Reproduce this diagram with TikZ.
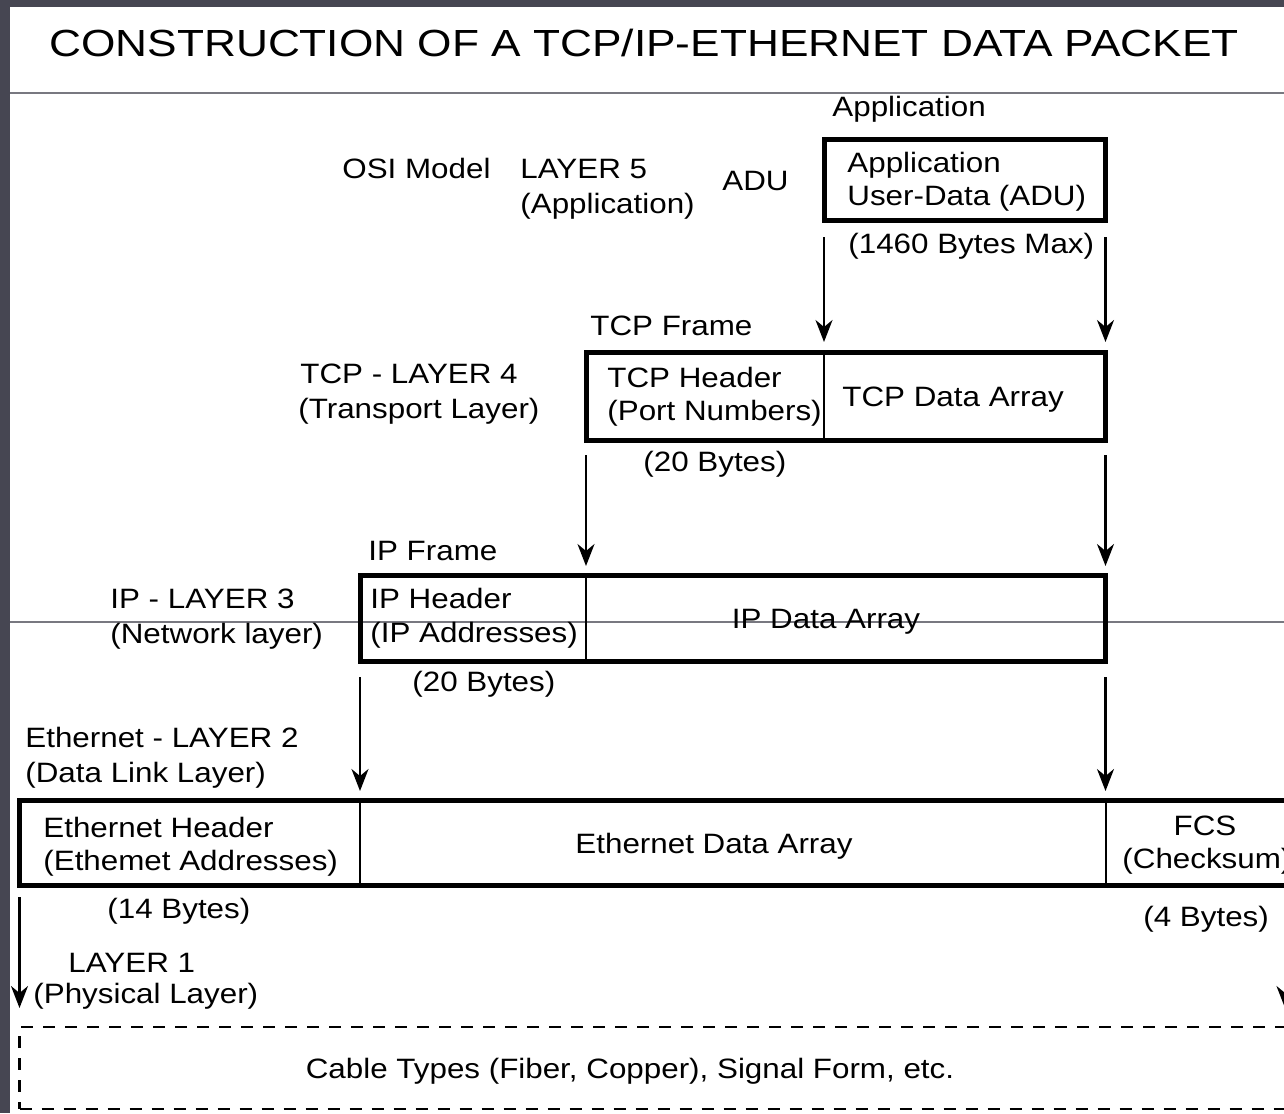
\documentclass[tikz,border=0pt]{standalone}
\usepackage{fontspec}
\usetikzlibrary{arrows.meta}
\newfontfamily\bodyfont[FakeStretch=1.12]{Liberation Sans}
\newfontfamily\headfont[FakeStretch=1.17]{Liberation Sans}
\definecolor{framegray}{RGB}{70,70,82}
\definecolor{rulegray}{RGB}{120,120,128}

\begin{document}
\begin{tikzpicture}[x=0.5pt,y=-0.5pt,
  lbl/.style={font={\bodyfont\fontsize{14pt}{17pt}\selectfont}, inner sep=0pt, anchor=base west},
  clbl/.style={lbl, anchor=base},
  ttl/.style={font={\headfont\fontsize{18.9pt}{22pt}\selectfont}, inner sep=0pt, anchor=base},
  cell/.style={draw, line width=1pt, inner sep=0pt, outer sep=0pt, anchor=north west},
  boxline/.style={draw, line width=2.5pt, line join=miter},
  arr/.style={line width=1.1pt, -{Stealth[length=11pt,width=8.5pt,inset=3.5pt]}},
  sep/.style={draw=rulegray, line width=0.7pt}]

% page, frame strips and rules
\useasboundingbox (0,0) rectangle (1284,1113);
\clip (0,0) rectangle (1284,1113);
\fill[white] (0,0) rectangle (1284,1113);
\fill[framegray] (0,0) rectangle (1284,7);
\fill[framegray] (0,0) rectangle (10,1113);
\coordinate (rA1) at (10,93);   \coordinate (rA2) at (1284,93);
\coordinate (rB1) at (10,622);  \coordinate (rB2) at (1284,622);
\draw[sep] (rA1) -- (rA2);
\draw[sep] (rB1) -- (rB2);

\node[ttl] (title) at (644,57) {CONSTRUCTION OF A TCP/IP-ETHERNET DATA PACKET};

% layer 5 : application data
\node[lbl] (appcap) at (832,117) {Application};
\node[lbl] (osi) at (342,178) {OSI Model};
\node[lbl] (l5a) at (520,178) {LAYER 5};
\node[lbl] (l5b) at (520,213) {(Application)};
\node[lbl] (adu) at (722,190) {ADU};
\node[cell, line width=2.5pt, minimum width=140.75pt, minimum height=40.5pt] (appbox) at (824,139.5) {};
\node[lbl] (appt1) at (847,172) {Application};
\node[lbl] (appt2) at (847,205) {User-Data (ADU)};
\node[lbl] (appmax) at (848,253) {(1460 Bytes Max)};

% layer 4 : TCP frame
\node[lbl] (tcpcap) at (590,335) {TCP Frame};
\node[lbl] (l4a) at (300,383) {TCP - LAYER 4};
\node[lbl] (l4b) at (298,418) {(Transport Layer)};
\node[cell, minimum width=119pt, minimum height=44pt] (tcphead) at (586,352.5) {};
\node[cell, minimum width=140.75pt, minimum height=44pt] (tcpdata) at (824,352.5) {};
\draw[boxline] (tcphead.north west) rectangle (tcpdata.south east);
\node[lbl] (tcpt1) at (607,387) {TCP Header};
\node[lbl] (tcpt2) at (607,420) {(Port Numbers)};
\node[lbl] (tcpt3) at (842,406) {TCP Data Array};
\node[lbl] (tcpsz) at (643,471) {(20 Bytes)};

% layer 3 : IP frame
\node[lbl] (ipcap) at (368,560) {IP Frame};
\node[lbl] (l3a) at (110,608) {IP - LAYER 3};
\node[lbl] (l3b) at (110,643) {(Network layer)};
\node[cell, minimum width=113pt, minimum height=43pt] (iphead) at (360,575.5) {};
\node[cell, minimum width=259.75pt, minimum height=43pt] (ipdata) at (586,575.5) {};
\draw[boxline] (iphead.north west) rectangle (ipdata.south east);
\node[lbl] (ipt1) at (370,608) {IP Header};
\node[lbl] (ipt2) at (370,642) {(IP Addresses)};
\node[clbl] (ipt3) at (826,628) {IP Data Array};
\node[lbl] (ipsz) at (412,691) {(20 Bytes)};

% layer 2 : Ethernet frame
\node[lbl] (l2a) at (25,747) {Ethernet - LAYER 2};
\node[lbl] (l2b) at (25,782) {(Data Link Layer)};
\node[cell, minimum width=170.25pt, minimum height=42.5pt] (ethhead) at (19.5,800.5) {};
\node[cell, minimum width=372.75pt, minimum height=42.5pt] (ethdata) at (360,800.5) {};
\node[cell, minimum width=99.75pt, minimum height=42.5pt] (fcs) at (1105.5,800.5) {};
\draw[boxline] (ethhead.north west) rectangle (fcs.south east);
\node[lbl] (etht1) at (43,837) {Ethernet Header};
\node[lbl] (etht2) at (43,870) {(Ethemet Addresses)};
\node[clbl] (etht3) at (714,853) {Ethernet Data Array};
\node[clbl] (fcst1) at (1205,835) {FCS};
\node[lbl] (fcst2) at (1122,868) {(Checksum)};
\node[lbl] (ethsz) at (107,918) {(14 Bytes)};
\node[lbl] (fcssz) at (1143,926) {(4 Bytes)};

% layer 1 : physical medium
\node[lbl] (l1a) at (68,972) {LAYER 1};
\node[lbl] (l1b) at (33,1003) {(Physical Layer)};
\node[cell, dashed, line width=1.2pt, dash pattern=on 6pt off 5pt,
      minimum width=642.75pt, minimum height=41pt] (phys) at (19.5,1027) {};
\node[clbl] (physt) at (630,1078) {Cable Types (Fiber, Copper), Signal Form, etc.};

% encapsulation arrows
\draw[arr] ([yshift=-8.25pt]appbox.south west) -- ([yshift=5.25pt]tcpdata.north west);
\draw[arr] ([yshift=-8.25pt]appbox.south east) -- ([yshift=5.25pt]tcpdata.north east);
\draw[arr] ([yshift=-7.25pt]tcphead.south west) -- ([yshift=4.75pt]ipdata.north west);
\draw[arr] ([yshift=-7.25pt]tcpdata.south east) -- ([yshift=4.75pt]ipdata.north east);
\draw[arr] ([yshift=-7.75pt]iphead.south west) -- ([yshift=4.75pt]ethdata.north west);
\draw[arr] ([yshift=-7.75pt]ipdata.south east) -- ([yshift=4.75pt]ethdata.north east);
\draw[arr] ([yshift=-5.75pt]ethhead.south west) -- ([yshift=9.5pt]phys.north west);
\coordinate (physRs) at (1285,897);
\coordinate (physRe) at (1285,1008);
\draw[arr] (physRs) -- (physRe);
\end{tikzpicture}
\end{document}
